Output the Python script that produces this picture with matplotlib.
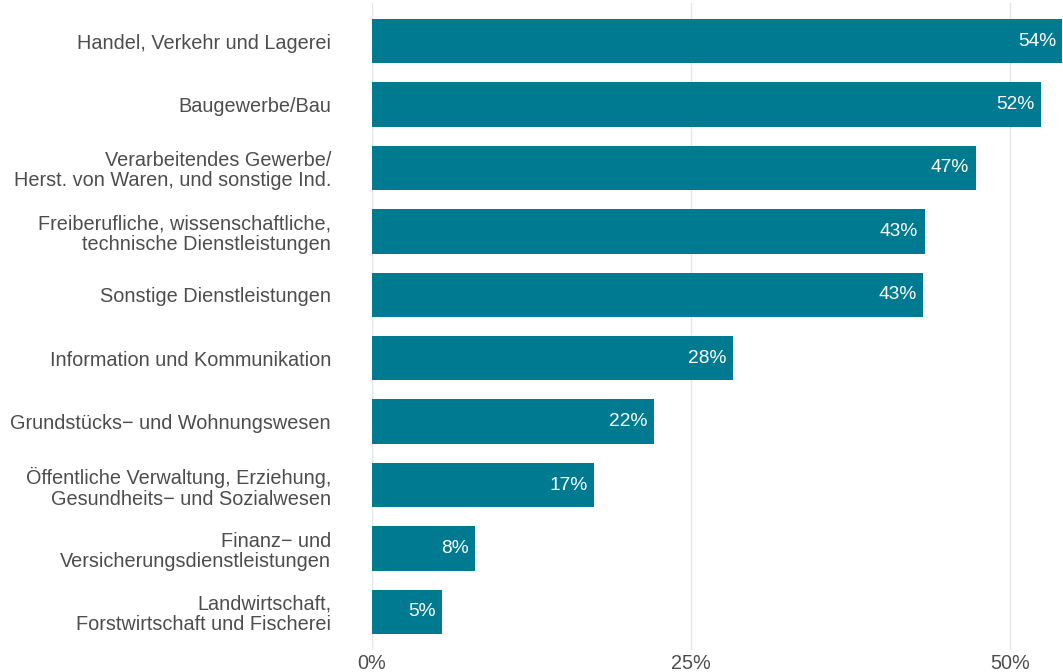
import matplotlib
matplotlib.use("Agg")
import matplotlib.pyplot as plt

plt.rcParams['font.family'] = ['Liberation Sans', 'DejaVu Sans']

categories = [
    "Handel, Verkehr und Lagerei",
    "Baugewerbe/Bau",
    "Verarbeitendes Gewerbe/\nHerst. von Waren, und sonstige Ind.",
    "Freiberufliche, wissenschaftliche,\ntechnische Dienstleistungen",
    "Sonstige Dienstleistungen",
    "Information und Kommunikation",
    "Grundstücks\u2212 und Wohnungswesen",
    "Öffentliche Verwaltung, Erziehung,\nGesundheits\u2212 und Sozialwesen",
    "Finanz\u2212 und\nVersicherungsdienstleistungen",
    "Landwirtschaft,\nForstwirtschaft und Fischerei",
]
values = [54.1, 52.4, 47.3, 43.3, 43.2, 28.3, 22.1, 17.4, 8.1, 5.5]
labels = ["54%", "52%", "47%", "43%", "43%", "28%", "22%", "17%", "8%", "5%"]
xticks = [0, 25, 50]
xticklabels = ["0%", "25%", "50%"]

bar_color = "#007a91"
text_color = "#4d4d4d"

fig = plt.figure(figsize=(10.63, 6.72), dpi=100)
ax = fig.add_axes([372/1063, 22/672, 691/1063, 647/672])

ypos = list(range(len(categories)))
ax.barh(ypos, values, height=0.7, color=bar_color, zorder=2)
for y, v, lab in zip(ypos, values, labels):
    ax.text(v - 0.5, y, lab, ha="right", va="center", color="white", fontsize=13.8, zorder=3)

ax.set_xlim(0, 54.15)
ax.set_ylim(len(categories) - 0.4, -0.6)
ax.set_xticks(xticks)
ax.set_xticklabels(xticklabels)
ax.set_yticks(ypos)
ax.set_yticklabels(categories, ha="right", multialignment="right", linespacing=1.1)
ax.tick_params(axis="both", length=0, labelsize=14.3, labelcolor=text_color)
ax.tick_params(axis="y", pad=29.5)
ax.tick_params(axis="x", pad=3)
ax.xaxis.grid(True, color="#e6e6e6", linewidth=1, zorder=0)
for s in ax.spines.values():
    s.set_visible(False)

fig.savefig("out.png", dpi=100)
